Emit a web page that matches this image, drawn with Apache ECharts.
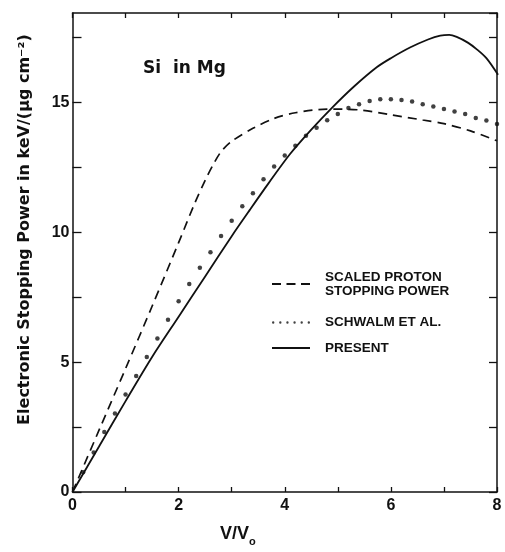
<!DOCTYPE html>
<html>
<head>
<meta charset="utf-8">
<script src="https://cdn.jsdelivr.net/npm/echarts@6/dist/echarts.min.js"></script>
<style>
  html, body { margin: 0; padding: 0; background: #fff; }
  #chart { width: 505px; height: 552px; }
</style>
</head>
<body>
<div id="chart"></div>
<script>
// Electronic stopping power of Si ions in Mg versus reduced velocity v/v0

// Scaled proton stopping power (dashed curve)
const protonV = [0, 0.5, 1.0, 1.5, 2.0, 2.3, 2.5, 2.65, 2.8, 3.0, 3.4, 3.8, 4.2, 4.8, 5.4, 6.0, 6.6, 7.0, 7.5, 8.0];
const protonS = [0, 2.38, 4.75, 7.15, 9.6, 11.1, 12.0, 12.6, 13.1, 13.5, 14.0, 14.38, 14.6, 14.74, 14.71, 14.52, 14.32, 14.18, 13.9, 13.52];

// Schwalm et al. (dots)
const schwalmV = [0.2, 0.4, 0.6, 0.8, 1.0, 1.2, 1.4, 1.6, 1.8, 2.0, 2.2, 2.4, 2.6, 2.8, 3.0, 3.2, 3.4, 3.6, 3.8, 4.0,
                  4.2, 4.4, 4.6, 4.8, 5.0, 5.2, 5.4, 5.6, 5.8, 6.0, 6.2, 6.4, 6.6, 6.8, 7.0, 7.2, 7.4, 7.6, 7.8, 8.0];
const schwalmS = [0.76, 1.52, 2.31, 3.02, 3.75, 4.47, 5.20, 5.91, 6.63, 7.34, 8.01, 8.63, 9.23, 9.86, 10.44, 11.0, 11.50, 12.04, 12.53, 12.95,
                  13.33, 13.71, 14.02, 14.31, 14.55, 14.78, 14.93, 15.05, 15.12, 15.12, 15.09, 15.03, 14.93, 14.84, 14.74, 14.65, 14.55, 14.40, 14.30, 14.17];

// Present work (solid curve)
const presentV = [0, 0.5, 1.0, 1.5, 2.0, 2.5, 3.0, 3.345, 3.7, 4.1, 4.5, 4.885, 5.3, 5.733, 6.0, 6.36, 6.7, 6.93, 7.1, 7.24, 7.45, 7.62, 7.8, 8.02];
const presentS = [0, 1.75, 3.5, 5.2, 6.75, 8.3, 9.85, 10.87, 11.9, 13.01, 13.95, 14.78, 15.6, 16.35, 16.7, 17.11, 17.42, 17.57, 17.6, 17.52, 17.3, 17.04, 16.7, 16.06];

// Axis tick labels
const xTickLabels = [0, 2, 4, 6, 8];
const yTickLabels = [0, 5, 10, 15];

const seriesNames = ['SCALED PROTON\nSTOPPING POWER', 'SCHWALM ET AL.', 'PRESENT'];

const zip = (xs, ys) => xs.map((x, i) => [x, ys[i]]);

const FONT = 'Liberation Sans';
const WIDE = 'DejaVu Sans';
const INK = '#111';

// legend glyphs: three dashes, six dots, one rule
const ICON_DASH = 'path://M0,0h9v2h-9zM14.5,0h9v2h-9zM29,0h9v2h-9z';
const ICON_DOTS = 'path://M0,1a1,1 0 1,0 2,0a1,1 0 1,0 -2,0M6,1a1,1 0 1,0 2,0a1,1 0 1,0 -2,0M12,1a1,1 0 1,0 2,0a1,1 0 1,0 -2,0M18,1a1,1 0 1,0 2,0a1,1 0 1,0 -2,0M24,1a1,1 0 1,0 2,0a1,1 0 1,0 -2,0M30,1a1,1 0 1,0 2,0a1,1 0 1,0 -2,0';
const ICON_LINE = 'path://M0,0h38v2h-38z';

// one legend block per entry so each row sits exactly where it belongs
function legendRow(name, icon, top, textExtra) {
  return {
    orient: 'vertical', left: 272, top: top, padding: 0,
    itemWidth: 38, itemHeight: 10, symbolKeepAspect: true,
    textStyle: Object.assign({
      fontFamily: FONT, fontWeight: 'bold', fontSize: 13.5, color: INK,
      lineHeight: 15, padding: [0, 0, 0, 10]
    }, textExtra || {}),
    data: [{ name: name, icon: icon }]
  };
}

const chart = echarts.init(document.getElementById('chart'), null, { renderer: 'canvas' });

const frameAxis = {
  axisLine: { show: true, onZero: false, lineStyle: { color: INK, width: 1.5 } },
  splitLine: { show: false }
};

chart.setOption({
  backgroundColor: '#fff',
  animation: false,
  grid: { left: 72.5, right: 8, top: 13, bottom: 51, containLabel: false },
  title: {
    text: 'Si  in Mg',
    left: 138, top: 55,
    textStyle: { fontFamily: WIDE, fontWeight: 'bold', fontSize: 17, color: INK }
  },
  legend: [
    legendRow(seriesNames[0], ICON_DASH, 263, { lineHeight: 14, padding: [14, 0, 0, 10] }),
    legendRow(seriesNames[1], ICON_DOTS, 315),
    legendRow(seriesNames[2], ICON_LINE, 334.5, { padding: [0, 0, 12, 10] })
  ],
  xAxis: [
    Object.assign({
      type: 'value', position: 'bottom', min: 0, max: 8, interval: 1,
      name: 'V/V{sub|o}', nameLocation: 'middle', nameGap: 29,
      nameTextStyle: {
        fontFamily: FONT, fontWeight: 'bold', fontSize: 18, color: INK, lineHeight: 20,
        padding: [0, 94, 0, 0],
        rich: { sub: { fontFamily: FONT, fontWeight: 'bold', fontSize: 11, color: INK, verticalAlign: 'bottom', lineHeight: 26 } }
      },
      axisTick: { show: true, inside: true, length: 5, lineStyle: { color: INK, width: 1.3 } },
      axisLabel: {
        margin: 6, fontFamily: FONT, fontWeight: 'bold', fontSize: 16, color: INK,
        formatter: v => (xTickLabels.indexOf(v) >= 0 ? String(v) : '')
      }
    }, frameAxis),
    Object.assign({
      type: 'value', position: 'top', min: 0, max: 8, interval: 1,
      axisTick: { show: true, inside: true, length: 5, lineStyle: { color: INK, width: 1.3 } },
      axisLabel: { show: false }
    }, frameAxis)
  ],
  yAxis: [
    Object.assign({
      type: 'value', position: 'left', min: 0, max: 18.44, interval: 2.5,
      name: 'Electronic Stopping Power in keV/(µg cm⁻²)',
      nameLocation: 'middle', nameGap: 40, nameRotate: 90,
      nameTextStyle: { fontFamily: WIDE, fontWeight: 'bold', fontSize: 16, color: INK, padding: [0, 0, 0, 46] },
      axisTick: { show: true, inside: true, length: 9, lineStyle: { color: INK, width: 1.3 } },
      axisLabel: {
        margin: 3, fontFamily: FONT, fontWeight: 'bold', fontSize: 16, color: INK,
        showMaxLabel: false,
        formatter: v => (yTickLabels.indexOf(v) >= 0 ? String(v) : '')
      }
    }, frameAxis),
    Object.assign({
      type: 'value', position: 'right', min: 0, max: 18.44, interval: 2.5,
      axisTick: { show: true, inside: true, length: 8, lineStyle: { color: INK, width: 1.3 } },
      axisLabel: { show: false }
    }, frameAxis)
  ],
  series: [
    {
      name: seriesNames[0], type: 'line', smooth: 0.3,
      data: zip(protonV, protonS),
      symbol: 'none', showSymbol: false,
      lineStyle: { color: INK, width: 1.7, type: [9, 6] },
      itemStyle: { color: INK }
    },
    {
      name: seriesNames[1], type: 'scatter',
      data: zip(schwalmV, schwalmS),
      symbol: 'circle', symbolSize: 4.5,
      itemStyle: { color: INK }
    },
    {
      name: seriesNames[2], type: 'line', smooth: 0.3,
      data: zip(presentV, presentS),
      symbol: 'none', showSymbol: false,
      lineStyle: { color: INK, width: 1.8 },
      itemStyle: { color: INK }
    }
  ]
});
</script>
</body>
</html>
